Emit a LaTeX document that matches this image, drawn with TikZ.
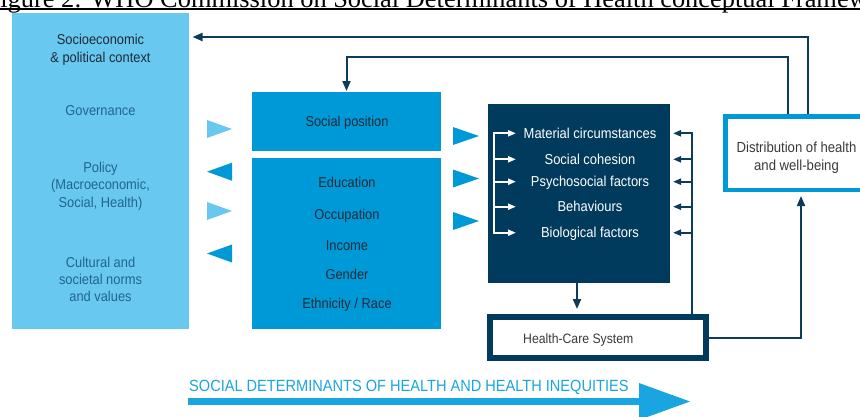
\documentclass[tikz,border=0pt]{standalone}
\usepackage{fontspec}
\setmainfont{Liberation Sans}
\newfontfamily\cf[FakeStretch=0.9]{Liberation Sans}
\newfontfamily\capfont{Liberation Serif}
\usetikzlibrary{arrows.meta}
\definecolor{lightb}{HTML}{68C8EF}
\definecolor{midb}{HTML}{0099D8}
\definecolor{navy}{HTML}{003A5C}
\definecolor{lnavy}{HTML}{0E3B5C}
\definecolor{cyanb}{HTML}{19A6E0}
\definecolor{txtdark}{HTML}{1E2A36}
\definecolor{txtteal}{HTML}{21658F}
\definecolor{txtgray}{HTML}{3A3A3A}
\tikzset{
  box/.style={draw=none, inner sep=0pt, outer sep=0pt, anchor=north west},
  tl/.style={anchor=base, inner sep=0pt, font=\cf\fontsize{14.3}{17}\selectfont},
  tw/.style={anchor=base, inner sep=0pt, text=white, font=\cf\fontsize{14.4}{17}\selectfont},
  fb/.style={draw=lnavy, line width=2pt, -{Triangle[length=10pt,width=8pt]}},
  snv/.style={draw=lnavy, line width=2pt, -{Triangle[length=8pt,width=6pt]}},
  swt/.style={draw=white, line width=2pt, -{Triangle[length=8pt,width=6pt]}},
}
\begin{document}
\begin{tikzpicture}[x=1pt,y=-1pt]
\useasboundingbox (0,0) rectangle (860,416);
\clip (0,0) rectangle (860,416);
\fill[white] (0,0) rectangle (860,416);
% caption (clipped)
\node[anchor=base west, inner sep=0pt, font=\capfont\fontsize{26.4}{30}\selectfont] (cap) at (-14.5,7) {Figure 2: WHO Commission on Social Determinants of Health conceptual Framework};
\draw[black, line width=2pt] (0,9) -- (860,9);
% boxes
\node[box, fill=lightb, minimum width=177pt, minimum height=316pt] (left) at (12,13) {};
\node[box, fill=midb, minimum width=189pt, minimum height=59pt] (socpos) at (252,92) {};
\node[box, fill=midb, minimum width=189pt, minimum height=171pt] (socdet) at (252,158) {};
\node[box, fill=navy, minimum width=182pt, minimum height=179pt] (dark) at (488,104) {};
\node[draw=navy, fill=white, line width=6pt, inner sep=0pt, minimum width=216pt, minimum height=41pt] (hcs) at (598,337.5) {};
\node[draw=midb, fill=white, line width=4.5pt, inner sep=0pt, minimum width=144.5pt, minimum height=73.5pt] (dist) at (797.5,153) {};
% left texts
\node[tl, text=txtdark] (t1) at (100.5,44) {Socioeconomic};
\node[tl, text=txtdark] (t2) at (100.5,62) {\& political context};
\node[tl, text=txtteal] (t3) at (100.5,115) {Governance};
\node[tl, text=txtteal] (t4) at (100.5,172) {Policy};
\node[tl, text=txtteal] (t5) at (100.5,189.5) {(Macroeconomic,};
\node[tl, text=txtteal] (t6) at (100.5,207) {Social, Health)};
\node[tl, text=txtteal] (t7) at (100.5,267) {Cultural and};
\node[tl, text=txtteal] (t8) at (100.5,284) {societal norms};
\node[tl, text=txtteal] (t9) at (100.5,301) {and values};
% middle texts
\node[tl, text=txtdark] (m0) at (347,126) {Social position};
\node[tl, text=txtdark] (m1) at (347,187) {Education};
\node[tl, text=txtdark] (m2) at (347,219) {Occupation};
\node[tl, text=txtdark] (m3) at (347,250) {Income};
\node[tl, text=txtdark] (m4) at (347,279) {Gender};
\node[tl, text=txtdark] (m5) at (347,308) {Ethnicity / Race};
% dark box texts
\node[tw] (d1) at (590,138) {Material circumstances};
\node[tw] (d2) at (590,164) {Social cohesion};
\node[tw] (d3) at (590,186) {Psychosocial factors};
\node[tw] (d4) at (590,211) {Behaviours};
\node[tw] (d5) at (590,237) {Biological factors};
% other texts
\node[tl, text=txtgray, font=\cf\fontsize{14.6}{17}\selectfont] (s1) at (796.5,152) {Distribution of health};
\node[tl, text=txtgray, font=\cf\fontsize{14.6}{17}\selectfont] (s2) at (796.5,170) {and well-being};
\node[anchor=base west, inner sep=0pt, text=txtgray, font=\cf\fontsize{13.6}{16}\selectfont] (h1) at (523,343) {Health-Care System};
% triangles
\fill[lightb] (207,120) -- (232,129) -- (207,138) -- cycle;
\fill[midb] (232,162.7) -- (207,171.7) -- (232,180.7) -- cycle;
\fill[lightb] (207,202) -- (232,211) -- (207,220) -- cycle;
\fill[midb] (232,244.5) -- (207,253.5) -- (232,262.5) -- cycle;
\fill[midb] (453,127) -- (479,136) -- (453,145) -- cycle;
\fill[midb] (453,169.5) -- (479,178.5) -- (453,187.5) -- cycle;
\fill[midb] (453,212) -- (479,221) -- (453,230) -- cycle;
% feedback connectors
\draw[fb, shorten >=3.5pt] ([xshift=10.5pt]dist.north) |- ([yshift=-24pt]left.north east);
\draw[fb, shorten >=1pt] ([xshift=-9.5pt]dist.north) -- ++(0,-57) -| (socpos.north);
\draw[fb, shorten >=5pt] ([xshift=-2pt]dark.south) -- ([xshift=-2pt]dark.south |- hcs.north);
\draw[fb, shorten >=4pt] (hcs.east) -| ([xshift=3.5pt]dist.south);
% brackets
\coordinate (l1) at (494,133.3);
\coordinate (l2) at (494,159.3);
\coordinate (l3) at (494,181.7);
\coordinate (l4) at (494,206.7);
\coordinate (l5) at (494,232.7);
\draw[swt] (l5) -- (l1) -- ++(22,0);
\draw[swt] (l1) -- (l5) -- ++(22,0);
\draw[swt] (l2) -- ++(22,0);
\draw[swt] (l3) -- ++(22,0);
\draw[swt] (l4) -- ++(22,0);
\coordinate (r1) at (692,133.3);
\coordinate (r2) at (692,159.3);
\coordinate (r3) at (692,181.7);
\coordinate (r4) at (692,206.7);
\coordinate (r5) at (692,232.7);
\draw[snv] (r1 |- hcs.north) -- (r1) -- ++(-19,0);
\draw[snv] (r2) -- ++(-19,0);
\draw[snv] (r3) -- ++(-19,0);
\draw[snv] (r4) -- ++(-19,0);
\draw[snv] (r5) -- ++(-19,0);
% bottom arrow
\node[anchor=base west, inner sep=0pt, text=cyanb, font=\cf\fontsize{16.2}{19}\selectfont] (sdh) at (189,391) {SOCIAL DETERMINANTS OF HEALTH AND HEALTH INEQUITIES};
\fill[cyanb] (188,397.5) rectangle (640,405.3);
\fill[cyanb] (639,383) -- (690,401.5) -- (639,420) -- cycle;
\end{tikzpicture}
\end{document}
